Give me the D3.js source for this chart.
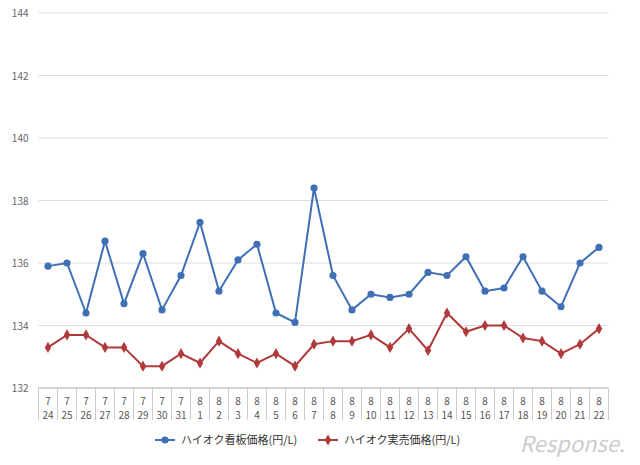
<!DOCTYPE html><html><head><meta charset="utf-8">
<script src="https://cdn.jsdelivr.net/npm/d3@7"></script>
<style>body{margin:0;background:#fff}text{font-family:"Noto Sans CJK JP","Noto Sans",sans-serif}</style></head><body>
<svg id="c" width="640" height="465"></svg>
<script>
const months=["7","7","7","7","7","7","7","7","8","8","8","8","8","8","8","8","8","8","8","8","8","8","8","8","8","8","8","8","8","8"];
const days=["24","25","26","27","28","29","30","31","1","2","3","4","5","6","7","8","9","10","11","12","13","14","15","16","17","18","19","20","21","22"];
const seriesNames=["ハイオク看板価格(円/L)","ハイオク実売価格(円/L)"];
const signPrice=[135.9,136.0,134.4,136.7,134.7,136.3,134.5,135.6,137.3,135.1,136.1,136.6,134.4,134.1,138.4,135.6,134.5,135.0,134.9,135.0,135.7,135.6,136.2,135.1,135.2,136.2,135.1,134.6,136.0,136.5];
const realPrice=[133.3,133.7,133.7,133.3,133.3,132.7,132.7,133.1,132.8,133.5,133.1,132.8,133.1,132.7,133.4,133.5,133.5,133.7,133.3,133.9,133.2,134.4,133.8,134.0,134.0,133.6,133.5,133.1,133.4,133.9];
const yTicks=[132,134,136,138,140,142,144];
const colors=["#3f6fb5","#b03a3a"];
const svg=d3.select("#c");
const L=38.5,R=608.5,T=13,B=388;
const idx=d3.range(days.length);
const x=d3.scaleBand().domain(idx).range([L,R]);
const y=d3.scaleLinear().domain([132,144]).range([B,T]);
svg.append("g").selectAll("line").data(yTicks).join("line").attr("x1",L).attr("x2",R).attr("y1",d=>y(d)).attr("y2",d=>y(d)).attr("stroke",d=>d===132?"#aaa":"#ddd");
svg.append("g").selectAll("text").data(yTicks).join("text").attr("x",L-10).attr("y",d=>y(d)+4).attr("text-anchor","end").attr("font-size",10).attr("fill","#666").text(d=>d);
svg.append("g").selectAll("line").data(d3.range(days.length+1)).join("line").attr("x1",i=>L+i*x.step()).attr("x2",i=>L+i*x.step()).attr("y1",B).attr("y2",420).attr("stroke","#ccc");
const xl=svg.append("g");
xl.selectAll(".m").data(idx).join("text").attr("x",i=>x(i)+x.bandwidth()/2).attr("y",405).attr("text-anchor","middle").attr("font-size",10).attr("fill","#555").text(i=>months[i]);
xl.selectAll(".d").data(idx).join("text").attr("x",i=>x(i)+x.bandwidth()/2).attr("y",419).attr("text-anchor","middle").attr("font-size",10).attr("fill","#555").text(i=>days[i]);
const cx=i=>x(i)+x.bandwidth()/2;
[signPrice,realPrice].forEach((s,k)=>{
 svg.append("path").datum(s).attr("fill","none").attr("stroke",colors[k]).attr("stroke-width",2).attr("d",d3.line().x((d,i)=>cx(i)).y(d=>y(d)));
 const sym=d3.symbol().type(k?d3.symbolDiamond:d3.symbolCircle).size(k?36:40);
 svg.append("g").selectAll("path").data(s).join("path").attr("transform",(d,i)=>`translate(${cx(i)},${y(d)})`).attr("d",sym).attr("fill",colors[k]);
});
const lg=[{x:155},{x:318}];
lg.forEach((p,k)=>{
 const g=svg.append("g").attr("transform",`translate(${p.x},440)`);
 g.append("line").attr("x1",0).attr("x2",20).attr("stroke",colors[k]).attr("stroke-width",2);
 g.append("path").attr("transform","translate(10,0)").attr("d",d3.symbol().type(k?d3.symbolDiamond:d3.symbolCircle).size(k?36:40)).attr("fill",colors[k]);
 g.append("text").attr("x",26).attr("y",4).attr("font-size",11).attr("fill","#333").text(seriesNames[k]);
});
svg.append("text").attr("x",625).attr("y",452).attr("text-anchor","end").attr("font-size",22).attr("font-style","italic").attr("fill","#ccc").attr("font-family","DejaVu Sans").text("Response.");
</script></body></html>
